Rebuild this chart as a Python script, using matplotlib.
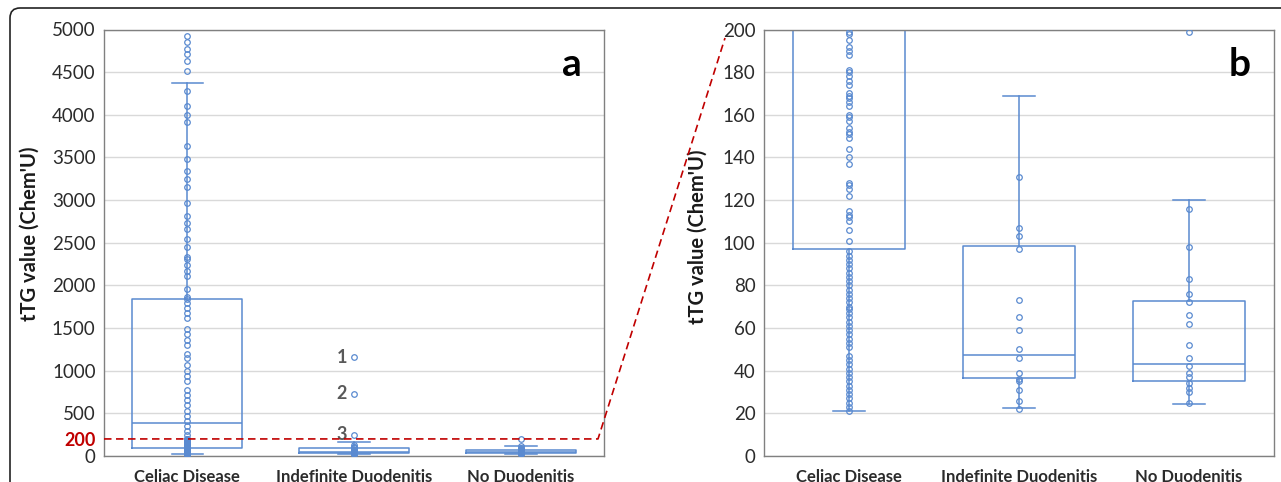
import matplotlib
matplotlib.use("Agg")
import matplotlib.pyplot as plt
from matplotlib.lines import Line2D
from matplotlib.patches import FancyBboxPatch
import numpy as np

# ---------------- data ----------------
categories = ["Celiac Disease", "Indefinite Duodenitis", "No Duodenitis"]

celiac = [4925, 4849, 4767, 4713, 4634, 4512, 4276, 4099, 4000, 3918, 3631, 3478,
          3337, 3250, 3156, 2967, 2810, 2732, 2661, 2543, 2456, 2338, 2307, 2240,
          2173, 2110, 1957, 1866, 1836, 1789, 1733, 1678, 1619, 1489, 1427, 1364,
          1300, 1199, 1152, 1061, 1002, 943, 884, 778, 716, 657, 598, 527, 472,
          413, 354, 295, 244,
          199, 198, 195, 192, 190, 188, 181, 180, 178, 176, 174, 170, 169, 168,
          166, 164, 160, 159, 157, 154, 152, 151, 149, 144, 140, 137, 128, 127,
          125, 122, 115, 113, 112, 110, 106, 101, 96, 94, 92, 90, 88, 86, 84, 82,
          80, 78, 76, 74, 72, 70, 69, 67, 65, 63, 61, 59, 57, 55, 53, 51, 47, 45,
          43, 41, 39, 37, 35, 33, 31, 29, 27, 25, 23, 21]
indefinite = [1160, 727, 248, 131, 107, 103, 97, 73, 65, 59, 50, 46, 39, 36, 35,
              31, 26, 22]
no_duodenitis = [199, 116, 98, 83, 76, 72, 66, 62, 52, 46, 42, 39, 37, 34, 32,
                 30, 25]

# box statistics (as displayed)
whislo = [21, 22.5, 24.5]
q1 = [97, 36.4, 35]
med = [385, 47.3, 43.3]
q3 = [1840, 98.5, 72.5]
whishi = [4370, 169, 120]

outlier_labels = ["1", "2", "3"]
outlier_values = [1160, 727, 248]

yticks_a = [0, 500, 1000, 1500, 2000, 2500, 3000, 3500, 4000, 4500, 5000]
yticks_b = [0, 20, 40, 60, 80, 100, 120, 140, 160, 180, 200]
threshold = 200

# ---------------- style ----------------
plt.rcParams['font.family'] = ['Lato', 'DejaVu Sans']
BLUE = '#5A8AD0'
RED = '#C00000'
GRID = '#D9D9D9'
SPINE = '#808080'
TXT = '#2B2B2B'

W, H = 1281, 482
fig = plt.figure(figsize=(W / 100, H / 100), dpi=100)


def px_axes(l, t, r, b):
    return fig.add_axes([l / W, 1 - b / H, (r - l) / W, (b - t) / H])


ax_a = px_axes(104, 29.5, 604, 456)
ax_b = px_axes(764, 29.5, 1274, 456)

series = [celiac, indefinite, no_duodenitis]
positions = [1, 2, 3]
stats = [dict(med=med[i], q1=q1[i], q3=q3[i], whislo=whislo[i],
              whishi=whishi[i], fliers=[], label=categories[i])
         for i in range(3)]

for ax, ylim, yt in [(ax_a, 5000, yticks_a), (ax_b, 200, yticks_b)]:
    lp = dict(color=BLUE, linewidth=1.1)
    ax.bxp(stats, positions=positions, widths=0.66, capwidths=0.19,
           showfliers=False, boxprops=lp, whiskerprops=lp, capprops=lp,
           medianprops=lp, manage_ticks=False)
    for pos, vals in zip(positions, series):
        ax.plot(np.full(len(vals), pos), vals, 'o', mfc='none', mec=BLUE,
                ms=4.0, mew=0.9, zorder=4)
    ax.set_xlim(0.5, 3.5)
    ax.set_ylim(0, ylim)
    ax.set_yticks(yt)
    ax.set_xticks(positions)
    ax.set_xticklabels(categories)
    ax.tick_params(axis='both', length=0, labelsize=13.5, labelcolor=TXT)
    ax.tick_params(axis='y', pad=6)
    ax.tick_params(axis='x', pad=9)
    ax.yaxis.grid(True, color=GRID, linewidth=1.0)
    ax.set_axisbelow(True)
    for s in ax.spines.values():
        s.set_color(SPINE)
        s.set_linewidth(1.0)
    ax.set_ylabel("tTG value (Chem'U)", fontweight='bold', fontsize=14.5,
                  color='#1A1A1A')
    for t in ax.get_xticklabels():
        t.set_fontsize(12)
        t.set_fontweight('bold')

ax_a.yaxis.set_label_coords(-0.128, 0.52)
ax_b.yaxis.set_label_coords(-0.11, 0.515)

# red 200 label on panel a
ax_a.set_yticks([threshold], minor=True)
ax_a.set_yticklabels([str(threshold)], minor=True)
ax_a.tick_params(axis='y', which='minor', length=0, pad=6, labelsize=13,
                 labelcolor=RED)
for t in ax_a.get_yticklabels(minor=True):
    t.set_fontweight('bold')

# outlier numbers
for lab, v in zip(outlier_labels, outlier_values):
    ax_a.annotate(lab, (2, v), xytext=(-5, 0), textcoords='offset points',
                  ha='right', va='center', fontsize=13, fontweight='bold',
                  color='#595959')

# panel letters
ax_a.text(0.955, 0.96, 'a', transform=ax_a.transAxes, ha='right', va='top',
          fontsize=28, fontweight='bold', color='black')
ax_b.text(0.955, 0.96, 'b', transform=ax_b.transAxes, ha='right', va='top',
          fontsize=28, fontweight='bold', color='black')

# dashed red zoom connector
inv = fig.transFigure.inverted()
p0 = ax_a.transData.transform((0.5, threshold))
p1 = (ax_a.transAxes.transform((0.988, 0))[0], p0[1])
p2 = (725, H - 38)
pts = inv.transform(np.array([p0, p1, p2]))
fig.add_artist(Line2D(pts[:, 0], pts[:, 1], transform=fig.transFigure,
                      color=RED, linewidth=1.2, linestyle=(0, (4.5, 2.7)),
                      zorder=5))

# rounded outer frame
frame = FancyBboxPatch((0.1, -0.6), 14.0, 4.74 + 0.6,
                       boxstyle="round,pad=0,rounding_size=0.1",
                       transform=fig.dpi_scale_trans, facecolor='none',
                       edgecolor='#222222', linewidth=1.2, zorder=0)
fig.add_artist(frame)

fig.savefig('out.png', dpi=100)
